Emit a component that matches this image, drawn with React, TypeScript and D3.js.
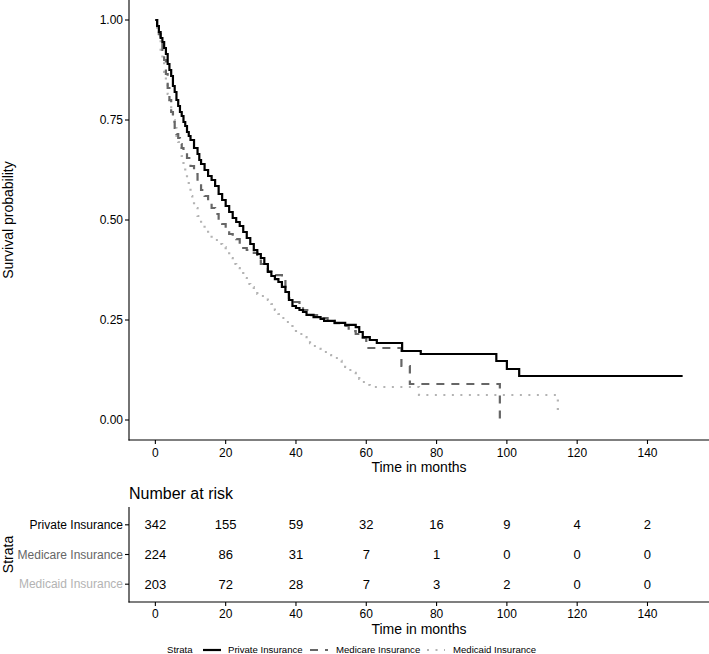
import React from "react";
import * as d3 from "d3";

// ---------- data ----------
const strata = ["Private Insurance", "Medicare Insurance", "Medicaid Insurance"];

const privateTime = [0, 0.5, 1, 1.5, 2, 2.5, 3, 3.5, 4, 4.5, 5, 5.5, 6, 6.5, 7, 7.5, 8, 8.5, 9, 9.5, 10, 11, 12, 12.5, 13, 14, 15, 16, 17, 18, 19, 20, 21, 22, 23, 24, 25, 26, 27, 28, 29, 30, 31, 32, 33, 34, 35, 36, 37, 38, 39, 40, 41, 42, 43, 45, 47, 48, 51, 54, 57, 58, 59, 61, 63, 70.2, 75.5, 97, 100, 103.5, 150];
const privateSurv = [1, 0.985, 0.97, 0.955, 0.945, 0.93, 0.915, 0.89, 0.875, 0.86, 0.835, 0.82, 0.8, 0.785, 0.77, 0.76, 0.745, 0.735, 0.72, 0.71, 0.7, 0.68, 0.665, 0.65, 0.64, 0.625, 0.61, 0.6, 0.585, 0.565, 0.55, 0.535, 0.52, 0.505, 0.495, 0.485, 0.47, 0.455, 0.44, 0.425, 0.415, 0.405, 0.39, 0.37, 0.36, 0.352, 0.345, 0.333, 0.32, 0.3, 0.285, 0.28, 0.275, 0.27, 0.263, 0.257, 0.253, 0.248, 0.243, 0.238, 0.232, 0.22, 0.207, 0.2, 0.1925, 0.1725, 0.165, 0.1475, 0.1275, 0.11, 0.11];

const medicareTime = [0, 0.5, 1, 1.5, 2, 2.5, 3, 3.5, 4, 4.5, 5, 5.5, 6, 6.5, 7, 7.5, 8, 9, 10, 11, 12, 13, 14, 15, 16, 17, 18, 19, 20, 21, 22, 23, 24, 25, 26, 28, 29, 30, 31, 32, 33, 34, 36, 37, 38, 39, 41, 42, 44, 46, 49, 51, 53, 55, 57, 59, 60, 70, 72.4, 98];
const medicareSurv = [1, 0.985, 0.965, 0.95, 0.925, 0.9, 0.865, 0.83, 0.8, 0.77, 0.745, 0.73, 0.715, 0.705, 0.69, 0.68, 0.67, 0.655, 0.635, 0.615, 0.59, 0.575, 0.56, 0.545, 0.53, 0.515, 0.5, 0.49, 0.475, 0.465, 0.46, 0.452, 0.44, 0.43, 0.425, 0.418, 0.405, 0.39, 0.38, 0.372, 0.367, 0.362, 0.355, 0.32, 0.305, 0.295, 0.283, 0.275, 0.262, 0.255, 0.248, 0.242, 0.235, 0.222, 0.215, 0.205, 0.18, 0.135, 0.09, 0];

const medicaidTime = [0, 0.5, 1, 1.5, 2, 2.5, 3, 3.5, 4, 4.5, 5, 5.5, 6, 6.5, 7, 7.5, 8, 8.5, 9, 9.5, 10, 10.5, 11, 12, 13, 14, 15, 16, 17, 18, 19, 20, 21, 22, 23, 24, 25, 26, 27, 28, 29, 30, 31, 32, 33, 34, 35, 36, 37, 38, 39, 40, 41, 42, 43, 44, 45, 46, 47, 48, 50, 51, 52, 53, 54, 55, 56, 57, 58, 59, 60, 61, 75, 114.5];
const medicaidSurv = [1, 0.975, 0.95, 0.92, 0.895, 0.87, 0.84, 0.815, 0.79, 0.77, 0.75, 0.73, 0.71, 0.695, 0.68, 0.66, 0.635, 0.615, 0.595, 0.58, 0.56, 0.545, 0.53, 0.51, 0.49, 0.475, 0.465, 0.455, 0.45, 0.44, 0.432, 0.42, 0.405, 0.39, 0.38, 0.37, 0.355, 0.34, 0.332, 0.322, 0.315, 0.31, 0.305, 0.3, 0.29, 0.275, 0.265, 0.255, 0.245, 0.235, 0.228, 0.22, 0.215, 0.207, 0.2, 0.192, 0.185, 0.178, 0.175, 0.17, 0.162, 0.155, 0.148, 0.14, 0.133, 0.125, 0.118, 0.11, 0.103, 0.095, 0.0875, 0.0825, 0.0625, 0.01];

const riskTimes = [0, 20, 40, 60, 80, 100, 120, 140];
const riskPrivate = [342, 155, 59, 32, 16, 9, 4, 2];
const riskMedicare = [224, 86, 31, 7, 1, 0, 0, 0];
const riskMedicaid = [203, 72, 28, 7, 3, 2, 0, 0];

const xTicks = [0, 20, 40, 60, 80, 100, 120, 140];
const yTicks = [0, 0.25, 0.5, 0.75, 1];

// ---------- styles ----------
const colors = ["#000000", "#666666", "#b3b3b3"];
const dashes = [null, "8,7", "2,6.5"];
const FONT = "'Liberation Sans', Arial, Helvetica, sans-serif";

const W = 709;
const H = 654;
const L = 129;
const R = 709;
const T = 0;
const B = 440;
const TT = 507;
const TB = 602;

export default function App() {
  const x = d3.scaleLinear().domain([-7.5, 157.5]).range([L, R]);
  const y = d3.scaleLinear().domain([-0.05, 1.05]).range([B, T]);
  const yr = d3.scaleLinear().domain([0.4, 3.6]).range([TT, TB]);

  const series = [
    { name: strata[0], t: privateTime, s: privateSurv, risk: riskPrivate },
    { name: strata[1], t: medicareTime, s: medicareSurv, risk: riskMedicare },
    { name: strata[2], t: medicaidTime, s: medicaidSurv, risk: riskMedicaid },
  ];

  const line = d3
    .line<[number, number]>()
    .x((d) => x(d[0]))
    .y((d) => y(d[1]))
    .curve(d3.curveStepAfter);

  const fmt = d3.format(".2f");

  // legend layout
  const legY = 650;
  const legendItems = [
    { keyX: 203, textX: 228 },
    { keyX: 310, textX: 336 },
    { keyX: 427, textX: 453 },
  ];

  return (
    <svg
      width={W}
      height={H}
      style={{ position: "absolute", left: 0, top: 0, background: "#fff" }}
      fontFamily={FONT}
    >
      <rect x={0} y={0} width={W} height={H} fill="#fff" />

      {/* curves (draw lighter first) */}
      {series
        .map((sr, i) => ({ sr, i }))
        .reverse()
        .map(({ sr, i }) => (
          <path
            key={sr.name}
            d={line(sr.t.map((t, k) => [t, sr.s[k]] as [number, number])) || ""}
            fill="none"
            stroke={colors[i]}
            strokeWidth={2.2}
            strokeDasharray={dashes[i] || undefined}
          />
        ))}

      {/* main axes */}
      <line x1={L} x2={L} y1={T} y2={B + 0.5} stroke="#000" strokeWidth={1.1} />
      <line x1={L - 0.5} x2={R} y1={B} y2={B} stroke="#000" strokeWidth={1.1} />
      {yTicks.map((v) => (
        <g key={v}>
          <line x1={L - 4} x2={L} y1={y(v)} y2={y(v)} stroke="#000" strokeWidth={1.1} />
          <text x={L - 6} y={y(v)} dy="0.35em" textAnchor="end" fontSize={12} fill="#000">
            {fmt(v)}
          </text>
        </g>
      ))}
      {xTicks.map((v) => (
        <g key={v}>
          <line x1={x(v)} x2={x(v)} y1={B} y2={B + 4} stroke="#000" strokeWidth={1.1} />
          <text x={x(v)} y={B + 16.5} textAnchor="middle" fontSize={12} fill="#000">
            {v}
          </text>
        </g>
      ))}
      <text x={(L + R) / 2} y={472} textAnchor="middle" fontSize={14} fill="#000">
        Time in months
      </text>
      <text
        transform={`translate(13,${(T + B) / 2}) rotate(-90)`}
        textAnchor="middle"
        fontSize={14}
        fill="#000"
      >
        Survival probability
      </text>

      {/* risk table */}
      <text x={L} y={493} fontSize={16} fill="#000" dy="0.35em">
        Number at risk
      </text>
      <line x1={L} x2={L} y1={TT} y2={TB + 0.5} stroke="#000" strokeWidth={1.1} />
      <line x1={L - 0.5} x2={R} y1={TB} y2={TB} stroke="#000" strokeWidth={1.1} />
      {series.map((sr, i) => (
        <g key={sr.name}>
          <line x1={L - 4} x2={L} y1={yr(i + 1)} y2={yr(i + 1)} stroke="#000" strokeWidth={1.1} />
          <text x={L - 6} y={yr(i + 1)} dy="0.35em" textAnchor="end" fontSize={12} fill={colors[i]}>
            {sr.name}
          </text>
          {riskTimes.map((t, k) => (
            <text
              key={t}
              x={x(t)}
              y={yr(i + 1)}
              dy="0.36em"
              textAnchor="middle"
              fontSize={13}
              fill="#000"
            >
              {sr.risk[k]}
            </text>
          ))}
        </g>
      ))}
      {xTicks.map((v) => (
        <g key={"t" + v}>
          <line x1={x(v)} x2={x(v)} y1={TB} y2={TB + 4} stroke="#000" strokeWidth={1.1} />
          <text x={x(v)} y={TB + 16} textAnchor="middle" fontSize={12} fill="#000">
            {v}
          </text>
        </g>
      ))}
      <text x={(L + R) / 2} y={634} textAnchor="middle" fontSize={14} fill="#000">
        Time in months
      </text>
      <text
        transform={`translate(13,${(TT + TB) / 2}) rotate(-90)`}
        textAnchor="middle"
        fontSize={14}
        fill="#000"
      >
        Strata
      </text>

      {/* legend */}
      <text x={167} y={legY} dy="0.35em" fontSize={9.6} fill="#000">
        Strata
      </text>
      {series.map((sr, i) => (
        <g key={"leg" + sr.name}>
          <line
            x1={legendItems[i].keyX}
            x2={legendItems[i].keyX + 18}
            y1={legY}
            y2={legY}
            stroke={colors[i]}
            strokeWidth={2.2}
            strokeDasharray={dashes[i] || undefined}
          />
          <text x={legendItems[i].textX} y={legY} dy="0.35em" fontSize={9.6} fill="#000">
            {sr.name}
          </text>
        </g>
      ))}
    </svg>
  );
}
